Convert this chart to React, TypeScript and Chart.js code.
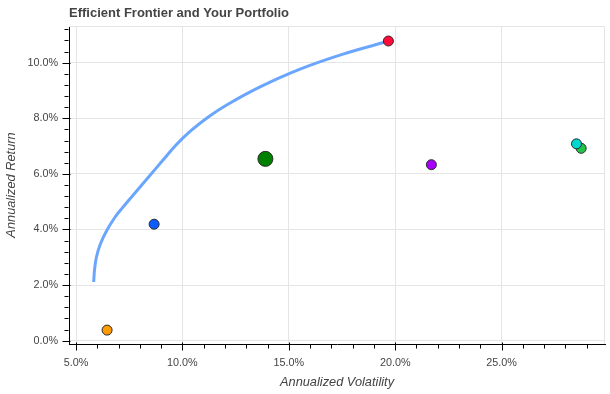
import React, { useEffect, useRef } from "react";
import { Chart, registerables } from "chart.js";
Chart.register(...registerables);

// Efficient frontier curve (annualized volatility %, annualized return %)
const frontierVol = [5.83, 5.87, 5.96, 6.14, 6.45, 6.83, 7.16, 7.61, 8.41, 9.06, 9.70, 10.36, 11.20, 12.08, 13.65, 15.53, 17.55, 19.71];
const frontierRet = [2.11, 2.55, 3.01, 3.47, 3.97, 4.44, 4.76, 5.17, 5.89, 6.47, 7.04, 7.53, 8.04, 8.48, 9.13, 9.77, 10.31, 10.78];

// Individual assets / portfolios
const pointVol = [6.46, 8.67, 13.9, 19.68, 21.7, 28.74, 28.52];
const pointRet = [0.38, 4.19, 6.54, 10.78, 6.33, 6.92, 7.08];
const pointColors = ["#ff9a00", "#0a5cff", "#008000", "#ff0a3a", "#a800ff", "#22c448", "#00d8cf"];
const pointRadii = [5, 5, 7.5, 5, 5, 5, 5];

const xMajorTicks = [5, 10, 15, 20, 25];
const yMajorTicks = [0, 2, 4, 6, 8, 10];
const xMinorStep = 1;
const yMinorStep = 0.4;

const titleText = "Efficient Frontier and Your Portfolio";
const xTitle = "Annualized Volatility";
const yTitle = "Annualized Return";

const FONT = "'Liberation Sans', Arial, Helvetica, sans-serif";
const TEXT = "#444444";

const axisDecor = {
  id: "axisDecor",
  beforeDatasetsDraw(chart: any) {
    const { ctx, chartArea } = chart;
    ctx.save();
    ctx.strokeStyle = "#e5e5e5";
    ctx.lineWidth = 1;
    ctx.beginPath();
    ctx.moveTo(chartArea.left, Math.round(chartArea.top) + 0.5);
    ctx.lineTo(chartArea.right, Math.round(chartArea.top) + 0.5);
    ctx.moveTo(Math.round(chartArea.right) - 0.5, chartArea.top);
    ctx.lineTo(Math.round(chartArea.right) - 0.5, chartArea.bottom);
    ctx.stroke();
    ctx.restore();
  },
  afterDraw(chart: any) {
    const { ctx, chartArea, scales } = chart;
    const xs = scales.x;
    const ys = scales.y;
    ctx.save();
    ctx.strokeStyle = "#000";
    ctx.lineWidth = 1;
    ctx.beginPath();
    const by = Math.round(chartArea.bottom) + 0.5;
    const lx = Math.round(chartArea.left) - 0.5;
    for (const v of xMajorTicks) {
      const px = Math.round(xs.getPixelForValue(v)) + 0.5;
      ctx.moveTo(px, by - 2);
      ctx.lineTo(px, by + 6);
    }
    const x0 = Math.ceil(xs.min / xMinorStep) * xMinorStep;
    for (let v = x0; v <= xs.max + 1e-9; v += xMinorStep) {
      if (xMajorTicks.some((m) => Math.abs(m - v) < 1e-6)) continue;
      const px = Math.round(xs.getPixelForValue(v)) + 0.5;
      ctx.moveTo(px, by);
      ctx.lineTo(px, by + 4);
    }
    for (const v of yMajorTicks) {
      const py = Math.round(ys.getPixelForValue(v)) + 0.5;
      ctx.moveTo(lx + 2, py);
      ctx.lineTo(lx - 6, py);
    }
    const y0 = Math.ceil(ys.min / yMinorStep) * yMinorStep;
    for (let i = 0; ; i++) {
      const v = y0 + i * yMinorStep;
      if (v > ys.max + 1e-9) break;
      if (yMajorTicks.some((m) => Math.abs(m - v) < 1e-6)) continue;
      const py = Math.round(ys.getPixelForValue(v)) + 0.5;
      ctx.moveTo(lx, py);
      ctx.lineTo(lx - 4, py);
    }
    ctx.stroke();
    ctx.restore();
  },
};

export default function App() {
  const ref = useRef<HTMLCanvasElement | null>(null);
  useEffect(() => {
    if (!ref.current) return;
    Chart.defaults.font.family = FONT;
    const chart = new Chart(ref.current, {
      type: "scatter",
      data: {
        datasets: [
          {
            label: "Efficient Frontier",
            data: frontierVol.map((x, i) => ({ x, y: frontierRet[i] })),
            showLine: true,
            borderColor: "#6aa6fd",
            borderWidth: 3,
            pointRadius: 0,
            tension: 0.4,
            order: 2,
          } as any,
          {
            label: "Assets",
            data: pointVol.map((x, i) => ({ x, y: pointRet[i] })),
            backgroundColor: pointColors,
            borderColor: "#2a2a2a",
            borderWidth: 1,
            pointRadius: pointRadii,
            order: 1,
          } as any,
        ],
      },
      options: {
        animation: false,
        responsive: true,
        maintainAspectRatio: false,
        layout: { autoPadding: false, padding: { left: 0, right: 5, top: 0, bottom: 0 } },
        plugins: {
          legend: { display: false },
          tooltip: { enabled: false },
          title: {
            display: true,
            text: titleText,
            align: "start",
            fullSize: false,
            color: TEXT,
            font: { family: FONT, size: 13, weight: "bold" },
            padding: { top: 5.7, bottom: 4.7 },
          } as any,
        },
        scales: {
          x: {
            type: "linear",
            min: 4.67,
            max: 29.86,
            afterBuildTicks: (s: any) => {
              s.ticks = xMajorTicks.map((v) => ({ value: v }));
            },
            afterFit: (s: any) => {
              s.height = 50;
            },
            grid: { color: "#e5e5e5", drawTicks: false },
            border: { display: true, color: "#000", width: 1 },
            ticks: {
              color: TEXT,
              font: { family: FONT, size: 10.8 },
              padding: 12.5,
              maxRotation: 0,
              callback: (v: any) => Number(v).toFixed(1) + "%",
            },
            title: {
              display: true,
              text: xTitle,
              color: TEXT,
              font: { family: FONT, size: 12.8, style: "italic" },
              padding: { top: 0, bottom: 3.5 },
            },
          },
          y: {
            type: "linear",
            min: -0.12,
            max: 11.32,
            afterBuildTicks: (s: any) => {
              s.ticks = yMajorTicks.map((v) => ({ value: v }));
            },
            afterFit: (s: any) => {
              s.width = 69;
            },
            grid: { color: "#e5e5e5", drawTicks: false },
            border: { display: true, color: "#000", width: 1 },
            ticks: {
              color: TEXT,
              font: { family: FONT, size: 10.8 },
              padding: 11,
              callback: (v: any) => Number(v).toFixed(1) + "%",
            },
            title: {
              display: true,
              text: yTitle,
              color: TEXT,
              font: { family: FONT, size: 12.8, style: "italic" },
              padding: { top: 3.5, bottom: 0 },
            },
          },
        },
      },
      plugins: [axisDecor],
    });
    return () => chart.destroy();
  }, []);
  return (
    <div style={{ position: "absolute", left: 0, top: 0, width: 610, height: 394 }}>
      <canvas ref={ref} />
    </div>
  );
}
